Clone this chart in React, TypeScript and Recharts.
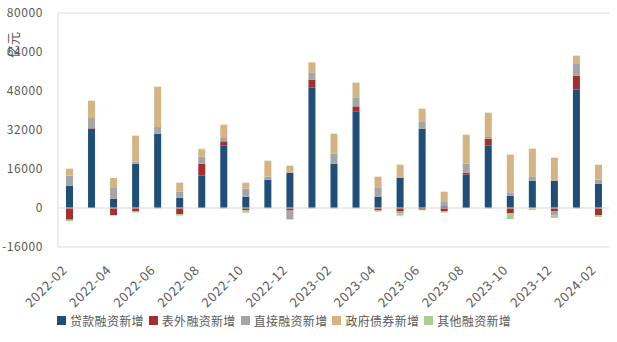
import React from 'react';
import { BarChart, Bar, XAxis, YAxis, ReferenceLine } from 'recharts';

const months = ['2022-02','2022-03','2022-04','2022-05','2022-06','2022-07','2022-08','2022-09','2022-10','2022-11','2022-12','2023-01','2023-02','2023-03','2023-04','2023-05','2023-06','2023-07','2023-08','2023-09','2023-10','2023-11','2023-12','2024-01','2024-02'];
const loans = [9160, 32400, 3830, 18190, 30500, 4240, 13260, 25700, 4650, 11620, 14500, 49370, 18190, 39660, 4650, 12440, 32550, 680, 13670, 25700, 5060, 11210, 11210, 48550, 9980];
const offBalance = [-4790, 270, -2870, -1230, 0, -2460, 4920, 1640, -960, 0, -820, 3280, 0, 2050, -960, -1230, -680, -1230, 820, 2730, -2050, 0, -1230, 5740, -2870];
const direct = [4100, 4240, 4380, 820, 2730, 2460, 2870, 1370, 3280, 1230, -3690, 3010, 4240, 3690, 3830, -960, 3010, 1780, 3690, 680, 1370, 1780, -1910, 4790, 1640];
const govBonds = [2870, 7110, 4100, 10670, 16550, 3690, 3010, 5470, 2460, 6560, 2870, 4100, 8070, 6020, 4380, 5330, 5200, 4240, 11900, 9980, 15450, 11350, 9440, 3420, 6150];
const other = [-680, 0, -270, -680, -270, -680, 270, -270, -960, -270, -270, -270, -270, -270, -550, -960, -270, -680, 0, -270, -2460, -820, -960, -270, -820];
const yTicks = [-16000, 0, 16000, 32000, 48000, 64000, 80000];

const seriesNames = ['贷款融资新增', '表外融资新增', '直接融资新增', '政府债券新增', '其他融资新增'];
const seriesColors = ['#1f4e79', '#a2302f', '#a5a5a5', '#d4b483', '#a9d18e'];
const seriesKeys = ['loans', 'offBalance', 'direct', 'govBonds', 'other'];
const unitLabel = '亿元';

const data = months.map((m, i) => ({
  month: m,
  loans: loans[i],
  offBalance: offBalance[i],
  direct: direct[i],
  govBonds: govBonds[i],
  other: other[i],
}));

const FONT = '"Noto Sans CJK SC", "Noto Sans", sans-serif';
const BORDER = '#d9d9d9';
const TEXT = '#595959';

const XTick = (props: any) => {
  const { x, y, payload } = props;
  const ex = x - 1;
  const ey = y + 16;
  return (
    <text x={ex} y={ey} transform={`rotate(-45, ${ex}, ${ey})`} textAnchor="end"
      fill={TEXT} fontSize={13} fontFamily={FONT} style={{ letterSpacing: 0.7 }}>
      {payload.value}
    </text>
  );
};

const LegendRow = () => (
  <div style={{ position: 'absolute', left: 57, top: 312, display: 'flex', alignItems: 'center', fontFamily: FONT, fontSize: 12, color: TEXT }}>
    {seriesNames.map((n, i) => (
      <div key={n} style={{ display: 'flex', alignItems: 'center', marginRight: 5 }}>
        <div style={{ width: 9, height: 9, background: seriesColors[i], marginRight: 4 }} />
        <span style={{ letterSpacing: 0.3 }}>{n}</span>
      </div>
    ))}
  </div>
);

export default function App() {
  return (
    <div style={{ position: 'absolute', left: 0, top: 0, width: 617, height: 342, background: '#fff' }}>
      <BarChart width={617} height={342} data={data} stackOffset="sign" barSize={7}
        margin={{ top: 13, right: 8, left: 0, bottom: 40 }}>
        <XAxis dataKey="month" interval={1} tick={<XTick />} tickLine={false}
          axisLine={{ stroke: BORDER }} height={55} />
        <YAxis domain={[-16000, 80000]} ticks={yTicks} width={58} tickLine={false}
          axisLine={{ stroke: BORDER }}
          tick={{ fill: TEXT, fontSize: 12, fontFamily: FONT, style: { letterSpacing: 0.6 } } as any}
          tickMargin={9} />
        <YAxis yAxisId="right" orientation="right" width={0} tick={false} domain={[-16000, 80000]} axisLine={{ stroke: BORDER }} />
        <ReferenceLine y={80000} stroke={BORDER} />
        <ReferenceLine y={0} stroke={BORDER} />
        {seriesKeys.map((k, i) => (
          <Bar key={k} dataKey={k} name={seriesNames[i]} stackId="a" fill={seriesColors[i]} isAnimationActive={false} />
        ))}
      </BarChart>
      <svg width={30} height={70} style={{ position: 'absolute', left: 0, top: 0 }}>
        <text x={18} y={45} transform="rotate(-90, 18, 45)" textAnchor="middle" fill={TEXT} fontSize={13} fontFamily={FONT}>{unitLabel}</text>
      </svg>
      <LegendRow />
    </div>
  );
}
